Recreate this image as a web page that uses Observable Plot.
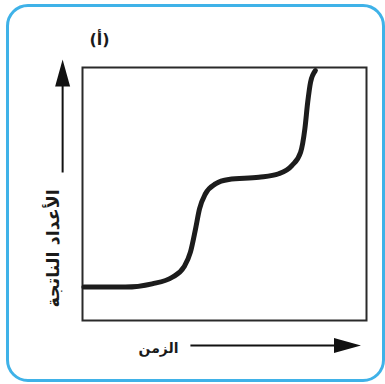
<!DOCTYPE html>
<html>
<head>
<meta charset="utf-8">
<script src="https://cdn.jsdelivr.net/npm/d3@7"></script>
<script src="https://cdn.jsdelivr.net/npm/@observablehq/plot@0.6"></script>
<style>
  html, body { margin: 0; padding: 0; background: #fff; }
  #wrap { position: relative; width: 385px; height: 384px; overflow: hidden; }
  #box { position: absolute; left: 6px; top: 4px; width: 379px; height: 378px; box-sizing: border-box;
         border: 3px solid #3fb2e8; border-radius: 22px; }
  #chart { position: absolute; left: 0; top: 0; }
</style>
</head>
<body>
<div id="wrap"><div id="box"></div><div id="chart"></div></div>
<script>
// Curve values (time vs. number produced), in arbitrary units 0..100
const time   = [0.5, 15.1, 24.5, 31.6, 35.7, 38.0, 39.8, 41.2, 43.3, 46.8, 51.5, 62.1, 69.1, 73.8, 76.8, 78.3, 79.3, 80.3, 82.0];
const counts = [13.2, 13.2, 14.5, 17.1, 21.1, 27.0, 36.2, 44.1, 50.1, 54.0, 55.7, 56.6, 58.0, 61.3, 66.5, 75.8, 86.3, 94.2, 98.8];

// Text labels
const panelLabel = "(أ)";
const yLabel = "الأعداد الناتجة";
const xLabel = "الزمن";

const curve = time.map((t, i) => ({time: t, count: counts[i]}));

// Elongated filled arrowhead symbol (points up before rotation)
const arrowHead = {
  draw(ctx) {
    const L = 27, W = 15;
    ctx.moveTo(0, -L / 2);
    ctx.lineTo(W / 2, L / 2);
    ctx.lineTo(-W / 2, L / 2);
    ctx.closePath();
  }
};

const chart = Plot.plot({
  width: 385,
  height: 384,
  marginLeft: 82,
  marginRight: 19,
  marginTop: 67,
  marginBottom: 64,
  x: {domain: [0, 100], axis: null},
  y: {domain: [0, 100], axis: null},
  style: {background: "transparent", overflow: "visible"},
  marks: [
    Plot.frame({stroke: "#2a2a2a", strokeWidth: 2}),
    Plot.line(curve, {x: "time", y: "count", curve: "monotone-x", stroke: "#1c1c1c", strokeWidth: 5, strokeLinecap: "round"}),
    // axis arrows
    Plot.link([{x1: -7, y1: 58.5, x2: -7, y2: 93}], {x1: "x1", y1: "y1", x2: "x2", y2: "y2", stroke: "#111", strokeWidth: 2}),
    Plot.link([{x1: 38, y1: -9.9, x2: 89, y2: -9.9}], {x1: "x1", y1: "y1", x2: "x2", y2: "y2", stroke: "#111", strokeWidth: 2}),
    Plot.dot([{x: -7, y: 97.8}], {x: "x", y: "y", symbol: arrowHead, fill: "#111", stroke: "none", r: 5}),
    Plot.dot([{x: 93.3, y: -9.9}], {x: "x", y: "y", symbol: arrowHead, fill: "#111", stroke: "none", r: 5, rotate: 90}),
    // labels
    Plot.text([yLabel], {x: -10.2, y: 28.5, text: d => d, rotate: -90, fontSize: 17.5, fontWeight: "bold", fontFamily: "DejaVu Sans", fill: "#1a1a1a", lineAnchor: "middle", textAnchor: "middle"}),
    Plot.text([xLabel], {x: 26.8, y: -11.1, text: d => d, fontSize: 14, fontWeight: "bold", fontFamily: "DejaVu Sans", fill: "#1a1a1a", lineAnchor: "middle", textAnchor: "middle"}),
    Plot.text([panelLabel], {x: 6.0, y: 111.1, text: d => d, fontSize: 16, fontWeight: "bold", fontFamily: "DejaVu Sans", fill: "#1a1a1a", lineAnchor: "middle", textAnchor: "middle"})
  ]
});
document.getElementById("chart").appendChild(chart);
</script>
</body>
</html>
